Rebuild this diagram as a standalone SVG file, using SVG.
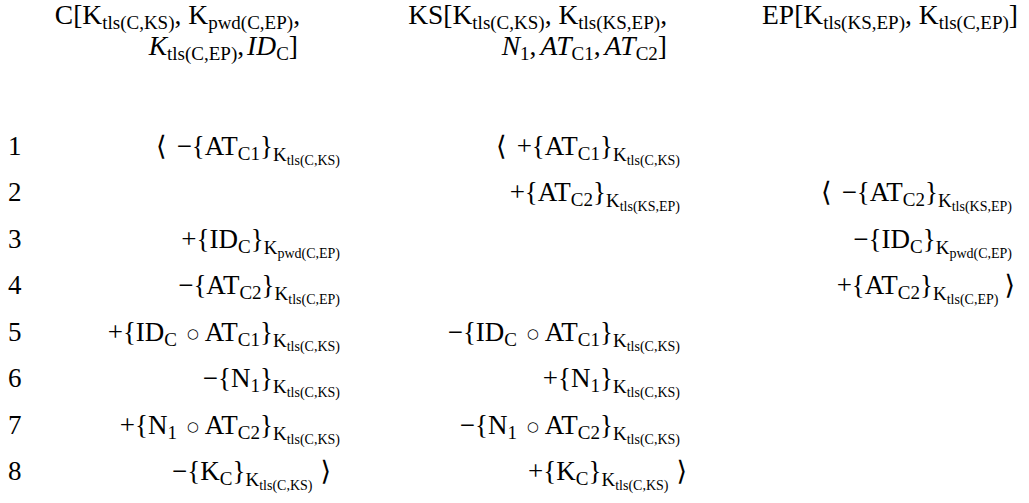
<svg xmlns="http://www.w3.org/2000/svg" width="1029" height="503" viewBox="0 0 1029 503">
<style>
text{font-family:"Liberation Serif","DejaVu Serif",serif;font-size:27px;fill:#000}
.e{text-anchor:end}
.s{font-size:19px}
.ss{font-size:14px}
.i{font-style:italic}
.o{font-family:"DejaVu Sans",sans-serif;font-size:13.5px}
.h{font-size:27.5px}
.h .s{font-size:19px}
</style>
<rect width="1029" height="503" fill="#fff"/>
<g id="header">
<text class="e h" x="300" y="24">C[K<tspan class="s" dy="5">tls(C,KS)</tspan><tspan dy="-5">, K</tspan><tspan class="s" dy="5">pwd(C,EP)</tspan><tspan dy="-5">,</tspan></text>
<text class="e h" x="298" y="55"><tspan class="i">K</tspan><tspan class="s" dy="5">tls(C,EP)</tspan><tspan dy="-5">,</tspan><tspan class="i" dx="3">ID</tspan><tspan class="s" dy="5">C</tspan><tspan dy="-5">]</tspan></text>
<text class="e h" x="667" y="24">KS[K<tspan class="s" dy="5">tls(C,KS)</tspan><tspan dy="-5">, K</tspan><tspan class="s" dy="5">tls(KS,EP)</tspan><tspan dy="-5">,</tspan></text>
<text class="e h" x="667" y="55"><tspan class="i">N</tspan><tspan class="s" dy="5">1</tspan><tspan dy="-5">,</tspan><tspan class="i" dx="4">AT</tspan><tspan class="s" dy="5">C1</tspan><tspan dy="-5">,</tspan><tspan class="i" dx="4">AT</tspan><tspan class="s" dy="5">C2</tspan><tspan dy="-5">]</tspan></text>
<text class="e h" x="1018" y="24">EP[K<tspan class="s" dy="5">tls(KS,EP)</tspan><tspan dy="-5">, K</tspan><tspan class="s" dy="5">tls(C,EP)</tspan><tspan dy="-5">]</tspan></text>
</g>
<g id="labels">
<text x="8" y="155">1</text>
<text x="8" y="201">2</text>
<text x="8" y="248">3</text>
<text x="8" y="294">4</text>
<text x="8" y="341">5</text>
<text x="8" y="387">6</text>
<text x="8" y="434">7</text>
<text x="8" y="480">8</text>
</g>
<g id="row1">
<text class="e" x="340" y="155">⟨<tspan dx="10">−{AT</tspan><tspan class="s" dy="5">C1</tspan><tspan dy="-5">}</tspan><tspan class="s" dy="6">K</tspan><tspan class="ss" dy="4">tls(C,KS)</tspan></text>
<text class="e" x="680" y="155">⟨<tspan dx="10">+{AT</tspan><tspan class="s" dy="5">C1</tspan><tspan dy="-5">}</tspan><tspan class="s" dy="6">K</tspan><tspan class="ss" dy="4">tls(C,KS)</tspan></text>
</g>
<g id="row2">
<text class="e" x="680" y="201">+{AT<tspan class="s" dy="5">C2</tspan><tspan dy="-5">}</tspan><tspan class="s" dy="6">K</tspan><tspan class="ss" dy="4">tls(KS,EP)</tspan></text>
<text class="e" x="1012" y="201">⟨<tspan dx="10">−{AT</tspan><tspan class="s" dy="5">C2</tspan><tspan dy="-5">}</tspan><tspan class="s" dy="6">K</tspan><tspan class="ss" dy="4">tls(KS,EP)</tspan></text>
</g>
<g id="row3">
<text class="e" x="340" y="248">+{ID<tspan class="s" dy="5">C</tspan><tspan dy="-5">}</tspan><tspan class="s" dy="6">K</tspan><tspan class="ss" dy="4">pwd(C,EP)</tspan></text>
<text class="e" x="1012" y="248">−{ID<tspan class="s" dy="5">C</tspan><tspan dy="-5">}</tspan><tspan class="s" dy="6">K</tspan><tspan class="ss" dy="4">pwd(C,EP)</tspan></text>
</g>
<g id="row4">
<text class="e" x="340" y="294">−{AT<tspan class="s" dy="5">C2</tspan><tspan dy="-5">}</tspan><tspan class="s" dy="6">K</tspan><tspan class="ss" dy="4">tls(C,EP)</tspan></text>
<text class="e" x="1015" y="294">+{AT<tspan class="s" dy="5">C2</tspan><tspan dy="-5">}</tspan><tspan class="s" dy="6">K</tspan><tspan class="ss" dy="4">tls(C,EP)</tspan><tspan dy="-10" dx="6">⟩</tspan></text>
</g>
<g id="row5">
<text class="e" x="340" y="341">+{ID<tspan class="s" dy="5">C</tspan><tspan class="o" dy="-8" dx="10">○</tspan><tspan dy="3" dx="6">AT</tspan><tspan class="s" dy="5">C1</tspan><tspan dy="-5">}</tspan><tspan class="s" dy="6">K</tspan><tspan class="ss" dy="4">tls(C,KS)</tspan></text>
<text class="e" x="680" y="341">−{ID<tspan class="s" dy="5">C</tspan><tspan class="o" dy="-8" dx="10">○</tspan><tspan dy="3" dx="6">AT</tspan><tspan class="s" dy="5">C1</tspan><tspan dy="-5">}</tspan><tspan class="s" dy="6">K</tspan><tspan class="ss" dy="4">tls(C,KS)</tspan></text>
</g>
<g id="row6">
<text class="e" x="340" y="387">−{N<tspan class="s" dy="5">1</tspan><tspan dy="-5">}</tspan><tspan class="s" dy="6">K</tspan><tspan class="ss" dy="4">tls(C,KS)</tspan></text>
<text class="e" x="680" y="387">+{N<tspan class="s" dy="5">1</tspan><tspan dy="-5">}</tspan><tspan class="s" dy="6">K</tspan><tspan class="ss" dy="4">tls(C,KS)</tspan></text>
</g>
<g id="row7">
<text class="e" x="340" y="434">+{N<tspan class="s" dy="5">1</tspan><tspan class="o" dy="-8" dx="10">○</tspan><tspan dy="3" dx="6">AT</tspan><tspan class="s" dy="5">C2</tspan><tspan dy="-5">}</tspan><tspan class="s" dy="6">K</tspan><tspan class="ss" dy="4">tls(C,KS)</tspan></text>
<text class="e" x="680" y="434">−{N<tspan class="s" dy="5">1</tspan><tspan class="o" dy="-8" dx="10">○</tspan><tspan dy="3" dx="6">AT</tspan><tspan class="s" dy="5">C2</tspan><tspan dy="-5">}</tspan><tspan class="s" dy="6">K</tspan><tspan class="ss" dy="4">tls(C,KS)</tspan></text>
</g>
<g id="row8">
<text class="e" x="331" y="480">−{K<tspan class="s" dy="5">C</tspan><tspan dy="-5">}</tspan><tspan class="s" dy="6">K</tspan><tspan class="ss" dy="4">tls(C,KS)</tspan><tspan dy="-10" dx="8">⟩</tspan></text>
<text class="e" x="687" y="480">+{K<tspan class="s" dy="5">C</tspan><tspan dy="-5">}</tspan><tspan class="s" dy="6">K</tspan><tspan class="ss" dy="4">tls(C,KS)</tspan><tspan dy="-10" dx="8">⟩</tspan></text>
</g>
</svg>
